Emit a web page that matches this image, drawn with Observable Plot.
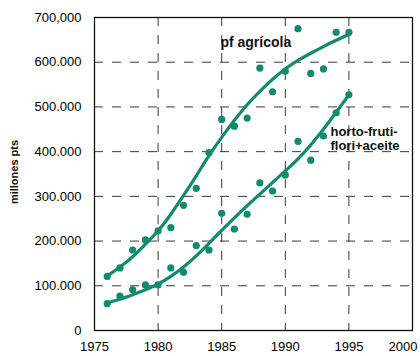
<!DOCTYPE html>
<html><head><meta charset="utf-8">
<script src="https://cdn.jsdelivr.net/npm/d3@7"></script>
<script src="https://cdn.jsdelivr.net/npm/@observablehq/plot@0.6"></script>
<style>
body{margin:0;background:#fff;}
#c{position:relative;width:420px;height:356px;}
svg{font-family:"Liberation Sans Narrow","Arial Narrow","Liberation Sans",sans-serif;}
</style></head><body><div id="c"></div>
<script>
const years = [1976,1977,1978,1979,1980,1981,1982,1983,1984,1985,1986,1987,1988,1989,1990,1991,1992,1993,1994,1995];
const agricolaPts = [121000,140000,180000,203000,223000,230000,280000,318000,398000,472000,457000,475000,587000,534000,580000,675000,575000,585000,667000,667000];
const agricolaFit = [122000,142000,165000,193000,223000,260000,302000,346000,391000,432000,470000,505000,535000,562000,585000,604000,620000,635000,649000,662000];
const hortoPts = [60000,77000,91000,102000,102000,140000,130000,190000,180000,262000,227000,260000,330000,312000,348000,423000,381000,435000,487000,527000];
const hortoFit = [62000,70000,80000,91000,104000,121000,142000,167000,195000,224000,252000,279000,305000,331000,357000,384000,415000,450000,488000,527000];
const yTicks = [0,100000,200000,300000,400000,500000,600000,700000];
const yTickLabels = ["0","100.000","200.000","300.000","400.000","500.000","600.000","700,000"];
const xTicks = [1975,1980,1985,1990,1995,2000];
const seriesLabels = [
  {year:1984.9, value:643000, text:"pf agrícola", size:14},
  {year:1993.55, value:429000, text:"horto-fruti-\nflori+aceite", size:13}
];
const col = "#108b6b";
const pts = (ys) => years.map((y,i)=>({year:y, value:ys[i]}));

const chart = Plot.plot({
  width:420, height:356,
  marginLeft:94, marginRight:8, marginTop:17, marginBottom:26,
  x:{domain:[1975,2000]},
  y:{domain:[0,700000]},
  marks:[
    Plot.gridY(yTicks.slice(1,-1), {stroke:"#222", strokeOpacity:0.9, strokeDasharray:"9,9"}),
    Plot.gridX(xTicks.slice(1,-1), {stroke:"#222", strokeOpacity:0.9, strokeDasharray:"9,9"}),
    Plot.frame({stroke:"#111", strokeWidth:1.3}),
    Plot.axisY(yTicks, {tickSize:0, tickPadding:13, fontSize:13, tickFormat:(d)=>yTickLabels[yTicks.indexOf(d)], label:null}),
    Plot.axisX(xTicks.slice(0,-1), {tickSize:0, tickPadding:11, fontSize:13, tickFormat:d=>String(d), label:null}),
    Plot.text(xTicks.slice(-1), {x:d=>d, frameAnchor:"bottom", lineAnchor:"top", dy:11, textAnchor:"end", dx:5, text:d=>String(d), fontSize:13, fill:"currentColor"}),
    Plot.line(pts(agricolaFit), {x:"year", y:"value", curve:"natural", stroke:col, strokeWidth:3.2}),
    Plot.line(pts(hortoFit), {x:"year", y:"value", curve:"natural", stroke:col, strokeWidth:3.2}),
    Plot.dot(pts(agricolaPts), {x:"year", y:"value", r:3.6, fill:col, stroke:"none"}),
    Plot.dot(pts(hortoPts), {x:"year", y:"value", r:3.6, fill:col, stroke:"none"}),
    Plot.text(seriesLabels.slice(0,1), {x:"year", y:"value", text:"text", textAnchor:"start", fontSize:14, fontWeight:"bold", fill:"#111"}),
    Plot.text(seriesLabels.slice(1), {x:"year", y:"value", text:"text", textAnchor:"start", fontSize:13, lineHeight:1.08, fontWeight:"bold", fill:"#111"})
  ]
});
document.getElementById("c").appendChild(chart);
const svg = d3.select(chart);
svg.append("text").attr("transform","translate(18,172) rotate(-90)").attr("text-anchor","middle")
  .attr("font-size",11).attr("font-weight","bold").attr("fill","#111").text("millones pts");
</script></body></html>
